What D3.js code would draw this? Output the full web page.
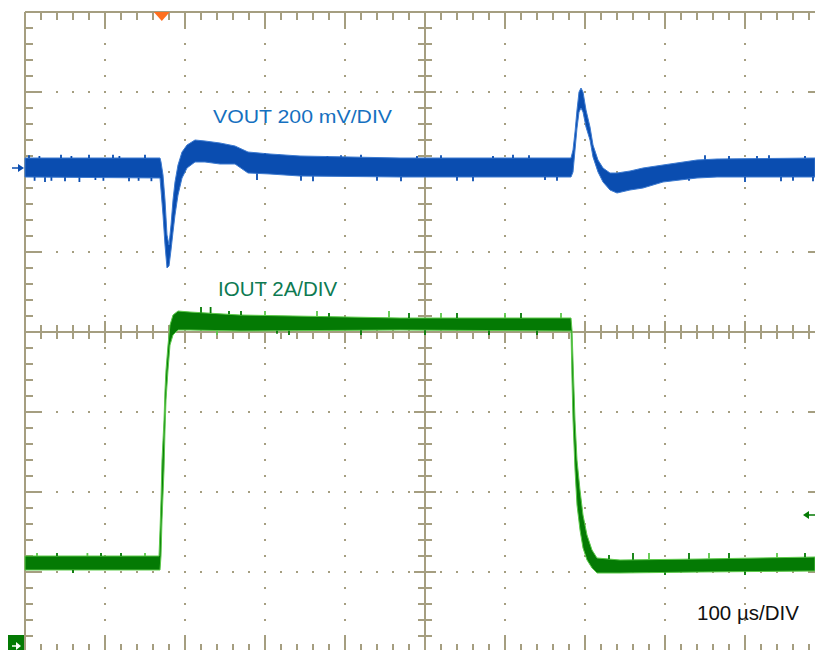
<!DOCTYPE html>
<html>
<head>
<meta charset="utf-8">
<script src="https://cdn.jsdelivr.net/npm/d3@7"></script>
<style>
  html, body { margin: 0; padding: 0; background: #fff; }
  svg { display: block; }
</style>
</head>
<body>
<svg id="chart" width="815" height="650"></svg>
<script>
// ---- Data (read from the oscilloscope capture) ----
// time in µs (100 µs/DIV), VOUT deviation in mV (200 mV/DIV), IOUT in A (2 A/DIV)
const voutTime = [0, 168.75, 170, 172.5, 175, 177.5, 180, 182.5, 185, 187.5, 191.25, 196.25, 202.5, 212.5, 225, 243.75, 262.5, 278.75, 306.25, 343.75, 468.75, 682.5, 685, 687.5, 690, 692.5, 695, 697.5, 701.25, 706.25, 710, 716.25, 722.5, 731.25, 740, 756.25, 772.5, 797.5, 840, 865, 987.5];
const voutHigh = [25, 25, 15, -17.5, -80, -167.5, -192.5, -142.5, -80, -35, 7.5, 40, 57.5, 70, 67.5, 62.5, 55, 40, 35, 30, 25, 25, 45, 90, 145, 190, 200, 190, 145, 102.5, 57.5, 20, 0, -12.5, -12.5, -7.5, 0, 7.5, 20, 22.5, 25];
const voutLow  = [-22.5, -25, -55, -117.5, -192.5, -250, -245, -205, -160, -117.5, -67.5, -25, 0, 15, 15, 10, 10, -12.5, -15, -20, -22.5, -22.5, -10, 45, 100, 140, 150, 140, 102.5, 70, 27.5, -10, -35, -55, -62.5, -55, -50, -35, -25, -22.5, -22.5];

const ioutTime = [0, 167.5, 168.75, 170, 171.25, 173.75, 175, 176.25, 178.75, 181.25, 185, 191.25, 206.25, 268.75, 468.75, 682.5, 683.75, 685, 687.5, 690, 693.75, 697.5, 702.5, 708.75, 715, 743.75, 843.75, 987.5];
const ioutHigh = [2.225, 2.225, 2.875, 3.625, 4.625, 5.625, 6.375, 6.875, 7.5, 8.0, 8.25, 8.35, 8.325, 8.25, 8.175, 8.175, 7.875, 7.125, 5.625, 4.625, 3.875, 3.25, 2.75, 2.375, 2.175, 2.125, 2.15, 2.2];
const ioutLow  = [1.875, 1.875, 1.875, 2.225, 3.125, 4.375, 5.375, 6.125, 6.875, 7.5, 7.75, 7.875, 7.875, 7.85, 7.875, 7.85, 6.625, 5.625, 4.375, 3.5, 2.875, 2.425, 2.125, 1.925, 1.8, 1.8, 1.825, 1.85];

// small noise spikes visible on the trace edges (time µs, spike tip value)
const voutSpikeTime  = [5, 12, 18, 25, 33, 45, 50, 58, 68, 80, 88, 98, 110, 118, 130, 142, 150, 158, 290, 300, 318, 330, 345, 360, 378, 395, 420, 440, 470, 490, 520, 540, 560, 585, 610, 630, 650, 665, 830, 850, 880, 900, 915, 930, 945, 960, 975, 985];
const voutSpikeValue = [32, -32, 30, -35, -32, 33, -33, 30, -35, 33, -30, -32, 33, 30, -33, -32, 33, -33, -30, 30, 33, 32, -32, -33, 30, 32, 33, -32, -33, 30, 32, -32, -33, 30, 33, 32, -30, -32, -32, 32, 30, -35, 30, 32, -33, -32, 30, -33];
const ioutSpikeTime  = [15, 40, 60, 78, 95, 120, 150, 220, 232, 240, 255, 270, 300, 315, 330, 365, 380, 420, 455, 480, 500, 520, 540, 580, 600, 620, 640, 670, 730, 760, 780, 800, 830, 855, 880, 900, 940, 975];
const ioutSpikeValue = [2.3, 2.3, 1.8, 2.3, 2.3, 2.3, 2.3, 8.45, 8.45, 7.75, 8.35, 8.35, 8.35, 7.78, 7.75, 8.35, 8.3, 7.75, 8.35, 8.3, 7.75, 8.3, 8.3, 7.75, 8.3, 8.3, 7.75, 8.3, 2.25, 2.3, 2.3, 1.75, 2.3, 2.3, 2.3, 1.75, 2.3, 2.3];

const timeDivs = d3.range(0, 11);   // 10 horizontal divisions
const ampDivs  = d3.range(-4, 5);   // 8 vertical divisions
const triggerTime = 171;            // µs
const ioutTriggerLevel = 3.25;      // A

const labelVout = "VOUT 200 mV/DIV";
const labelIout = "IOUT 2A/DIV";
const labelTime = "100 \u00B5s/DIV";

// ---- Scales ----
const svg = d3.select("#chart");
const x = d3.scaleLinear().domain([0, 1000]).range([25, 825]);
const xDiv = d3.scaleLinear().domain([0, 10]).range([25, 825]);
const yDiv = d3.scaleLinear().domain([-4, 4]).range([652, 12]);
const yV = d3.scaleLinear().domain([0, 200]).range([168, 88]);
const yI = d3.scaleLinear().domain([0, 2]).range([645, 565]);

const gridColor = "#a59e80";
const blue = "#0a4db0", blueEdge = "#3c7ad0";
const green = "#047a04", greenEdge = "#5cc94a";

// ---- Grid ----
const g = svg.append("g");
const minor = d3.range(0, 50.01, 1).map(d => d / 5);
const minorY = d3.range(-20, 20.01, 1).map(d => d / 5);
const isMajor = v => Math.abs(v - Math.round(v)) < 1e-6;

// dotted grid on non-centre, non-border majors
timeDivs.filter(d => d !== 0 && d !== 5 && d !== 10).forEach(d => {
  g.selectAll(null).data(minorY.filter(v => v > -4 && v < 4 && v !== 0)).enter()
    .append("rect").attr("x", xDiv(d) - 1).attr("y", v => yDiv(v) - 1)
    .attr("width", 2).attr("height", 2).attr("fill", gridColor);
});
ampDivs.filter(d => d !== -4 && d !== 0 && d !== 4).forEach(d => {
  g.selectAll(null).data(minor.filter(v => v > 0 && v < 10 && v !== 5)).enter()
    .append("rect").attr("x", v => xDiv(v) - 1).attr("y", yDiv(d) - 1)
    .attr("width", 2).attr("height", 2).attr("fill", gridColor);
});

function gl(x1, y1, x2, y2) {
  g.append("line").attr("x1", x1).attr("y1", y1).attr("x2", x2).attr("y2", y2)
    .attr("stroke", gridColor).attr("stroke-width", 2);
}
// borders and centre lines
gl(xDiv(0), yDiv(4), xDiv(10), yDiv(4));
gl(xDiv(0), yDiv(-4), xDiv(10), yDiv(-4));
gl(xDiv(0), yDiv(4), xDiv(0), yDiv(-4));
gl(xDiv(10), yDiv(4), xDiv(10), yDiv(-4));
gl(xDiv(0), yDiv(0), xDiv(10), yDiv(0));
gl(xDiv(5), yDiv(4), xDiv(5), yDiv(-4));

minor.filter(v => v > 0 && v < 10).forEach(v => {
  const len = isMajor(v) ? 17 : 8;
  gl(xDiv(v), yDiv(4), xDiv(v), yDiv(4) + len);
  gl(xDiv(v), yDiv(-4), xDiv(v), yDiv(-4) - len);
  const c = isMajor(v) ? 11 : 7;
  gl(xDiv(v), yDiv(0) - c, xDiv(v), yDiv(0) + c);
});
minorY.filter(v => v > -4 && v < 4).forEach(v => {
  const len = isMajor(v) ? 17 : 8;
  gl(xDiv(0), yDiv(v), xDiv(0) + len, yDiv(v));
  gl(xDiv(10), yDiv(v), xDiv(10) - len, yDiv(v));
  const c = isMajor(v) ? 11 : 7;
  gl(xDiv(5) - c, yDiv(v), xDiv(5) + c, yDiv(v));
});

// ---- Traces ----
const vData = voutTime.map((t, i) => ({ t, hi: voutHigh[i], lo: voutLow[i] }));
const iData = ioutTime.map((t, i) => ({ t, hi: ioutHigh[i], lo: ioutLow[i] }));

const areaV = d3.area().x(d => x(d.t)).y0(d => yV(d.lo)).y1(d => yV(d.hi));
const areaI = d3.area().x(d => x(d.t)).y0(d => yI(d.lo)).y1(d => yI(d.hi));

function envelopeAt(data, t) {
  const i = d3.bisector(d => d.t).left(data, t);
  const a = data[Math.max(0, i - 1)], b = data[Math.min(data.length - 1, i)];
  if (a === b) return { hi: a.hi, lo: a.lo };
  const f = (t - a.t) / (b.t - a.t);
  return { hi: a.hi + f * (b.hi - a.hi), lo: a.lo + f * (b.lo - a.lo) };
}

const traces = svg.append("g");
// IOUT
traces.append("path").datum(iData).attr("d", areaI)
  .attr("fill", green).attr("stroke", greenEdge).attr("stroke-width", 1);
traces.selectAll(null).data(ioutSpikeTime).enter().append("line")
  .attr("x1", d => x(d)).attr("x2", d => x(d))
  .attr("y1", (d, i) => { const e = envelopeAt(iData, d); return yI(ioutSpikeValue[i] > (e.hi + e.lo) / 2 ? e.hi : e.lo); })
  .attr("y2", (d, i) => yI(ioutSpikeValue[i]))
  .attr("stroke", (d, i) => i % 3 === 0 ? greenEdge : green).attr("stroke-width", 1.8);

// VOUT
traces.append("path").datum(vData).attr("d", areaV)
  .attr("fill", blue).attr("stroke", blueEdge).attr("stroke-width", 1);
traces.selectAll(null).data(voutSpikeTime).enter().append("line")
  .attr("x1", d => x(d)).attr("x2", d => x(d))
  .attr("y1", (d, i) => { const e = envelopeAt(vData, d); return yV(voutSpikeValue[i] > (e.hi + e.lo) / 2 ? e.hi : e.lo); })
  .attr("y2", (d, i) => yV(voutSpikeValue[i]))
  .attr("stroke", blue).attr("stroke-width", 1.8);

// ---- Markers ----
const mk = svg.append("g");
const tx = x(triggerTime);
mk.append("path").attr("d", `M${tx - 8},12 L${tx + 8},12 L${tx},21 Z`).attr("fill", "#ff6f1e");
const vy = yV(0);
mk.append("line").attr("x1", 12).attr("x2", 22).attr("y1", vy).attr("y2", vy).attr("stroke", blue).attr("stroke-width", 1.5);
mk.append("path").attr("d", `M24,${vy} L18,${vy - 4} L18,${vy + 4} Z`).attr("fill", blue);
const iy = yI(0);
mk.append("rect").attr("x", 8).attr("y", iy - 10).attr("width", 16).attr("height", 20).attr("fill", green);
mk.append("line").attr("x1", 12).attr("x2", 19).attr("y1", iy + 1).attr("y2", iy + 1).attr("stroke", "#fff").attr("stroke-width", 1.5);
mk.append("path").attr("d", `M21,${iy + 1} L16,${iy - 3} L16,${iy + 5} Z`).attr("fill", "#fff");
const ty = yI(ioutTriggerLevel);
mk.append("line").attr("x1", 806).attr("x2", 815).attr("y1", ty).attr("y2", ty).attr("stroke", green).attr("stroke-width", 1.5);
mk.append("path").attr("d", `M803,${ty} L809,${ty - 4} L809,${ty + 4} Z`).attr("fill", green);

// ---- Labels ----
const font = "Arial, 'Liberation Sans', sans-serif";
svg.append("text").attr("x", 213).attr("y", 123).text(labelVout)
  .attr("font-family", font).attr("font-size", 19).attr("fill", "#1570c0")
  .attr("textLength", 179).attr("lengthAdjust", "spacingAndGlyphs");
svg.append("text").attr("x", 218).attr("y", 296).text(labelIout)
  .attr("font-family", font).attr("font-size", 20.5).attr("fill", "#0d7a52");
svg.append("text").attr("x", 697).attr("y", 620).text(labelTime)
  .attr("font-family", font).attr("font-size", 20.5).attr("fill", "#111");
</script>
</body>
</html>
